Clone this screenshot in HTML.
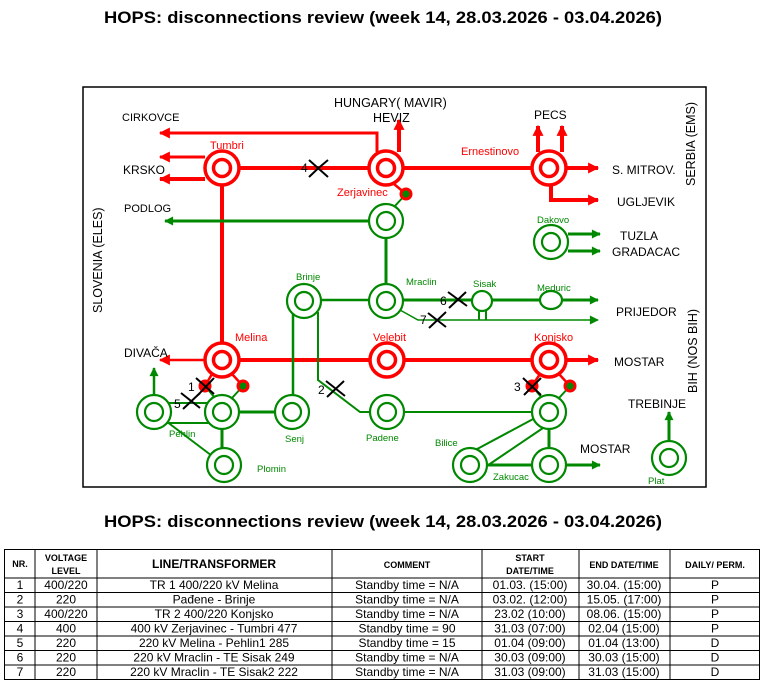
<!DOCTYPE html>
<html><head><meta charset="utf-8"><style>
html,body{margin:0;padding:0;background:#fff;}
svg{display:block;font-family:"Liberation Sans",Arial,sans-serif;}
</style></head><body>
<svg width="766" height="690" viewBox="0 0 766 690" xmlns="http://www.w3.org/2000/svg">
<defs>
<marker id="ar" viewBox="0 0 10 10" refX="9" refY="5" markerWidth="13" markerHeight="11" orient="auto" markerUnits="userSpaceOnUse"><path d="M0,0L10,5L0,10z" fill="#f00"/></marker>
<marker id="ag" viewBox="0 0 10 10" refX="9" refY="5" markerWidth="11" markerHeight="9" orient="auto" markerUnits="userSpaceOnUse"><path d="M0,0L10,5L0,10z" fill="#080"/></marker>
<marker id="ag2" viewBox="0 0 10 10" refX="9" refY="5" markerWidth="11" markerHeight="9" orient="auto" markerUnits="userSpaceOnUse"><path d="M0,0L10,5L0,10z" fill="#080"/></marker>
</defs>
<text x="383" y="23" text-anchor="middle" font-size="17" font-weight="bold" textLength="558" lengthAdjust="spacingAndGlyphs">HOPS: disconnections review (week 14, 28.03.2026 - 03.04.2026)</text>
<rect x="83" y="87" width="623" height="400" fill="none" stroke="#000" stroke-width="1.5"/>

<g stroke="#f00" stroke-width="4" fill="none">
<line x1="222" y1="168" x2="598" y2="168" marker-end="url(#ar)"/>
<line x1="205" y1="157" x2="160" y2="157" stroke-width="3" marker-end="url(#ar)"/>
<line x1="205" y1="179" x2="160" y2="179" marker-end="url(#ar)"/>
<polyline points="377,152 377,133 160,133" stroke-width="3" marker-end="url(#ar)"/>
<line x1="399" y1="152" x2="399" y2="120" marker-end="url(#ar)"/>
<line x1="538" y1="152" x2="538" y2="126" marker-end="url(#ar)"/>
<line x1="562" y1="152" x2="562" y2="126" marker-end="url(#ar)"/>
<polyline points="551,185 551,200 598,200" marker-end="url(#ar)"/>
<line x1="222" y1="168" x2="222" y2="360"/>
<line x1="222" y1="360" x2="598" y2="360" marker-end="url(#ar)"/>
<line x1="205" y1="360" x2="160" y2="360" stroke-width="2.5" marker-end="url(#ar)"/>
<line x1="394" y1="184" x2="406" y2="194" stroke-width="2.5"/>
<line x1="212" y1="374" x2="205" y2="386" stroke-width="2.5"/>
<line x1="232" y1="374" x2="243" y2="386" stroke-width="2.5"/>
<line x1="540" y1="374" x2="532" y2="386" stroke-width="2.5"/>
<line x1="559" y1="374" x2="570" y2="386" stroke-width="2.5"/>
</g>
<g stroke="#080" stroke-width="3" fill="none">
<line x1="386" y1="221" x2="165" y2="221" marker-end="url(#ag)"/>
<line x1="406" y1="194" x2="394" y2="207" stroke-width="2"/>
<line x1="386" y1="221" x2="386" y2="300"/>
<line x1="304" y1="300" x2="386" y2="300" stroke-width="2.5"/>
<line x1="386" y1="300" x2="598" y2="300" marker-end="url(#ag)"/>
<polyline points="400,310 418,320 598,320" stroke-width="1.5" marker-end="url(#ag2)"/>
<line x1="479" y1="308" x2="479" y2="320" stroke-width="2"/>
<line x1="486" y1="308" x2="486" y2="320" stroke-width="2"/>
<line x1="568" y1="234" x2="600" y2="234" marker-end="url(#ag)"/>
<line x1="568" y1="251" x2="600" y2="251" marker-end="url(#ag)"/>
<line x1="293" y1="310" x2="293" y2="412" stroke-width="2.5"/>
<polyline points="318,312 318,380 360,412 387,412" stroke-width="2"/>
<line x1="154" y1="398" x2="154" y2="368" stroke-width="2.5" marker-end="url(#ag)"/>
<line x1="154" y1="403" x2="222" y2="403" stroke-width="2"/>
<line x1="154" y1="423" x2="222" y2="423" stroke-width="2"/>
<line x1="222" y1="412" x2="292" y2="412"/>
<line x1="222" y1="412" x2="222" y2="465"/>
<line x1="154" y1="412" x2="224" y2="465" stroke-width="2"/>
<line x1="205" y1="386" x2="215" y2="398" stroke-width="2"/>
<line x1="243" y1="386" x2="232" y2="398" stroke-width="2"/>
<line x1="532" y1="386" x2="542" y2="398" stroke-width="2"/>
<line x1="570" y1="386" x2="559" y2="398" stroke-width="2"/>
<line x1="387" y1="412" x2="549" y2="412" stroke-width="2"/>
<line x1="535" y1="418" x2="466" y2="455" stroke-width="2"/>
<line x1="543" y1="428" x2="478" y2="472" stroke-width="2"/>
<line x1="549" y1="412" x2="549" y2="465"/>
<line x1="470" y1="465" x2="549" y2="465"/>
<line x1="549" y1="465" x2="600" y2="465" marker-end="url(#ag)"/>
<line x1="669" y1="440" x2="669" y2="412" marker-end="url(#ag)"/>
</g>
<g fill="#fff" stroke="#f00" stroke-width="3.5">
<circle cx="222" cy="168" r="17"/><circle cx="222" cy="168" r="8.5"/>
<circle cx="386" cy="168" r="17"/><circle cx="386" cy="168" r="8.5"/>
<circle cx="549" cy="168" r="17"/><circle cx="549" cy="168" r="8.5"/>
<circle cx="222" cy="360" r="17"/><circle cx="222" cy="360" r="8.5"/>
<circle cx="387" cy="360" r="17"/><circle cx="387" cy="360" r="8.5"/>
<circle cx="549" cy="360" r="17"/><circle cx="549" cy="360" r="8.5"/>
</g>
<g stroke="#f00" stroke-width="3">
<circle cx="406" cy="194" r="5" fill="#080"/>
<circle cx="205" cy="386" r="5" fill="#f00"/>
<circle cx="243" cy="386" r="5" fill="#080"/>
<circle cx="532" cy="386" r="5" fill="#f00"/>
<circle cx="570" cy="386" r="5" fill="#080"/>
</g>
<g fill="#fff" stroke="#080" stroke-width="2.2">
<circle cx="386" cy="221" r="17"/><circle cx="386" cy="221" r="9"/>
<circle cx="551" cy="242" r="17"/><circle cx="551" cy="242" r="9"/>
<circle cx="304" cy="301" r="17"/><circle cx="304" cy="301" r="9"/>
<circle cx="386" cy="301" r="17"/><circle cx="386" cy="301" r="9"/>
<ellipse cx="482" cy="301" rx="10" ry="10"/>
<ellipse cx="551" cy="300" rx="11" ry="9"/>
<circle cx="154" cy="412" r="17"/><circle cx="154" cy="412" r="9"/>
<circle cx="222" cy="412" r="17"/><circle cx="222" cy="412" r="9"/>
<circle cx="292" cy="412" r="17"/><circle cx="292" cy="412" r="9"/>
<circle cx="387" cy="412" r="17"/><circle cx="387" cy="412" r="9"/>
<circle cx="549" cy="412" r="17"/><circle cx="549" cy="412" r="9"/>
<circle cx="224" cy="465" r="17"/><circle cx="224" cy="465" r="9"/>
<circle cx="470" cy="465" r="17"/><circle cx="470" cy="465" r="9"/>
<circle cx="549" cy="465" r="17"/><circle cx="549" cy="465" r="9"/>
<circle cx="669" cy="458" r="17"/><circle cx="669" cy="458" r="9"/>
</g>
<g stroke="#000" stroke-width="2" fill="none">
<path d="M309,160 Q318,168 328,177 M309,177 Q318,168 328,160"/>
<path d="M196,378 L214,394 M198,395 L214,378"/>
<path d="M181,393 L200,408 M183,409 L200,393"/>
<path d="M326,381 L345,396 M327,397 L344,381"/>
<path d="M523,378 L541,395 M524,395 L541,378"/>
<path d="M448,292 L467,306 M449,308 L466,292"/>
<path d="M428,313 L446,327 M429,328 L446,312"/>
</g>
<g font-size="12" fill="#000">
<text x="301" y="172">4</text><text x="188" y="391">1</text><text x="174" y="408">5</text>
<text x="318" y="394">2</text><text x="514" y="391">3</text><text x="440" y="305">6</text><text x="420" y="324">7</text>
</g>
<g font-size="11.5" fill="#000">
<text x="334" y="107" font-size="12.5">HUNGARY( MAVIR)</text>
<text x="373" y="122" font-size="12.5">HEVIZ</text>
<text x="122" y="121" font-size="11">CIRKOVCE</text>
<text x="123" y="174" font-size="12">KRSKO</text>
<text x="124" y="212" font-size="11">PODLOG</text>
<text x="534" y="119" font-size="12">PECS</text>
<text x="612" y="174" font-size="12">S. MITROV.</text>
<text x="617" y="206" font-size="12">UGLJEVIK</text>
<text x="620" y="240" font-size="12">TUZLA</text>
<text x="612" y="256" font-size="12">GRADACAC</text>
<text x="616" y="316" font-size="12">PRIJEDOR</text>
<text x="614" y="366" font-size="12">MOSTAR</text>
<text x="124" y="357" font-size="12">DIVAČA</text>
<text x="628" y="408" font-size="12">TREBINJE</text>
<text x="580" y="453" font-size="12">MOSTAR</text>
<text transform="translate(102,313) rotate(-90)" font-size="12.5">SLOVENIA (ELES)</text>
<text transform="translate(695,186) rotate(-90)" font-size="12.5">SERBIA (EMS)</text>
<text transform="translate(697,393) rotate(-90)" font-size="12.5">BIH (NOS BIH)</text>
</g>
<g font-size="11" fill="#f00">
<text x="210" y="149">Tumbri</text>
<text x="337" y="196">Zerjavinec</text>
<text x="461" y="155">Ernestinovo</text>
<text x="235" y="341">Melina</text>
<text x="373" y="341">Velebit</text>
<text x="534" y="341">Konjsko</text>
</g>
<g font-size="9.5" fill="#080">
<text x="537" y="223">Dakovo</text>
<text x="296" y="280">Brinje</text>
<text x="406" y="285">Mraclin</text>
<text x="473" y="287">Sisak</text>
<text x="537" y="291">Meduric</text>
<text x="169" y="437">Pehlin</text>
<text x="285" y="442">Senj</text>
<text x="366" y="441">Padene</text>
<text x="257" y="472">Plomin</text>
<text x="435" y="446">Bilice</text>
<text x="493" y="480">Zakucac</text>
<text x="648" y="484">Plat</text>
</g>

<text x="383" y="527" text-anchor="middle" font-size="17" font-weight="bold" textLength="558" lengthAdjust="spacingAndGlyphs">HOPS: disconnections review (week 14, 28.03.2026 - 03.04.2026)</text>

<g stroke="#000" stroke-width="1" fill="none">
<rect x="4.5" y="549.5" width="755" height="130"/>
<line x1="35" y1="549" x2="35" y2="680"/><line x1="97" y1="549" x2="97" y2="680"/>
<line x1="332" y1="549" x2="332" y2="680"/><line x1="482" y1="549" x2="482" y2="680"/>
<line x1="579" y1="549" x2="579" y2="680"/><line x1="670" y1="549" x2="670" y2="680"/>
<line x1="4" y1="578" x2="760" y2="578"/><line x1="4" y1="592.5" x2="760" y2="592.5"/>
<line x1="4" y1="607" x2="760" y2="607"/><line x1="4" y1="621.5" x2="760" y2="621.5"/>
<line x1="4" y1="636" x2="760" y2="636"/><line x1="4" y1="650.5" x2="760" y2="650.5"/>
<line x1="4" y1="665" x2="760" y2="665"/>
</g>
<g font-size="9" font-weight="bold" text-anchor="middle">
<text x="20" y="567">NR.</text>
<text x="66" y="561">VOLTAGE</text><text x="66" y="574">LEVEL</text>
<text x="214" y="568" font-size="12">LINE/TRANSFORMER</text>
<text x="407" y="568">COMMENT</text>
<text x="530" y="561">START</text><text x="530" y="574">DATE/TIME</text>
<text x="624" y="568">END DATE/TIME</text>
<text x="715" y="568">DAILY/ PERM.</text>
</g>
<g font-size="12" text-anchor="middle">
<text x="20" y="589">1</text><text x="66" y="589">400/220</text><text x="214" y="589">TR 1 400/220 kV Melina</text><text x="407" y="589">Standby time = N/A</text><text x="530" y="589">01.03. (15:00)</text><text x="624" y="589">30.04. (15:00)</text><text x="715" y="589">P</text>
<text x="20" y="603.5">2</text><text x="66" y="603.5">220</text><text x="214" y="603.5">Pađene - Brinje</text><text x="407" y="603.5">Standby time = N/A</text><text x="530" y="603.5">03.02. (12:00)</text><text x="624" y="603.5">15.05. (17:00)</text><text x="715" y="603.5">P</text>
<text x="20" y="618">3</text><text x="66" y="618">400/220</text><text x="214" y="618">TR 2 400/220 Konjsko</text><text x="407" y="618">Standby time = N/A</text><text x="530" y="618">23.02 (10:00)</text><text x="624" y="618">08.06. (15:00)</text><text x="715" y="618">P</text>
<text x="20" y="632.5">4</text><text x="66" y="632.5">400</text><text x="214" y="632.5">400 kV Zerjavinec - Tumbri 477</text><text x="407" y="632.5">Standby time = 90</text><text x="530" y="632.5">31.03 (07:00)</text><text x="624" y="632.5">02.04 (15:00)</text><text x="715" y="632.5">P</text>
<text x="20" y="647">5</text><text x="66" y="647">220</text><text x="214" y="647">220 kV Melina - Pehlin1 285</text><text x="407" y="647">Standby time = 15</text><text x="530" y="647">01.04 (09:00)</text><text x="624" y="647">01.04 (13:00)</text><text x="715" y="647">D</text>
<text x="20" y="661.5">6</text><text x="66" y="661.5">220</text><text x="214" y="661.5">220 kV Mraclin - TE Sisak 249</text><text x="407" y="661.5">Standby time = N/A</text><text x="530" y="661.5">30.03 (09:00)</text><text x="624" y="661.5">30.03 (15:00)</text><text x="715" y="661.5">D</text>
<text x="20" y="676">7</text><text x="66" y="676">220</text><text x="214" y="676">220 kV Mraclin - TE Sisak2 222</text><text x="407" y="676">Standby time = N/A</text><text x="530" y="676">31.03 (09:00)</text><text x="624" y="676">31.03 (15:00)</text><text x="715" y="676">D</text>
</g>
</svg>
</body></html>
